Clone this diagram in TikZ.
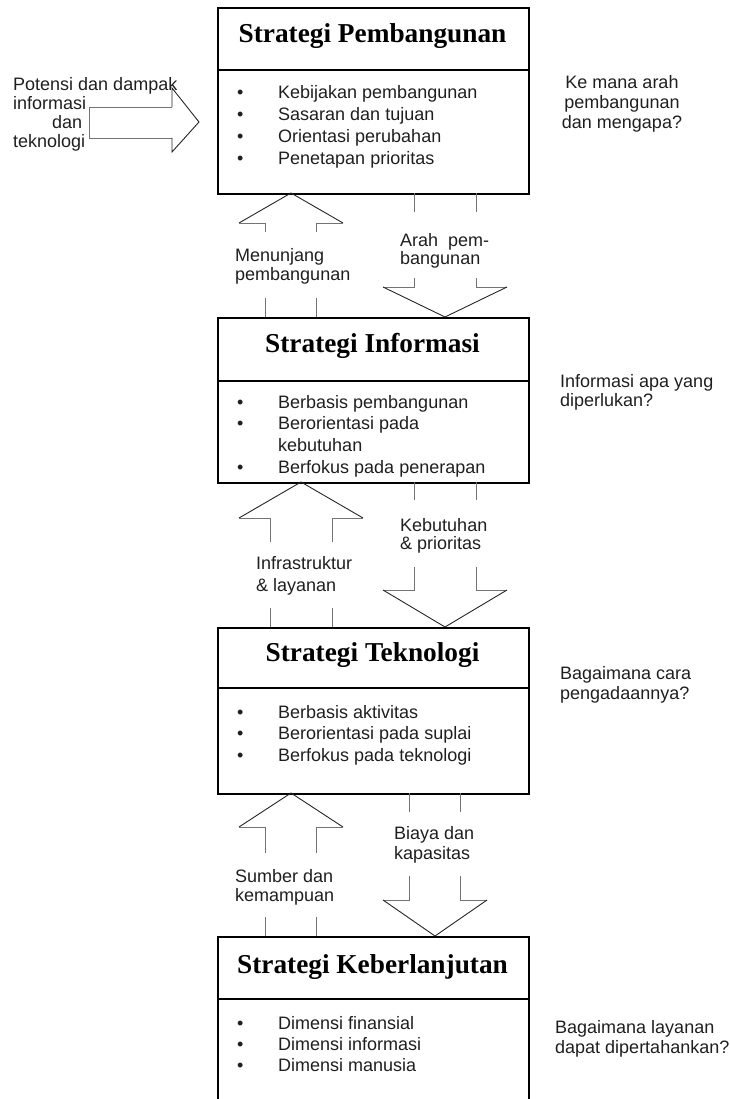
\documentclass[tikz,border=0pt]{standalone}
\usepackage{fontspec}
\setmainfont{Liberation Serif}
\setsansfont{Liberation Sans}
\usetikzlibrary{calc}

% stacked lines whose first baseline is the node's base
\newcommand\TxtLines[2]{\begin{tabular}[t]{@{}#1@{}}#2\end{tabular}}

% hollow block arrow pointing up, with a gap in the shaft for its label
% #1 x centre, #2 tip y, #3 head base y, #4 shaft gap start, #5 shaft gap end,
% #6 shaft foot y, #7 half head width, #8 half shaft width
\newcommand\UpBlock[8]{%
  \draw[head] ({#1-#7},#3) -- (#1,#2) -- ({#1+#7},#3);
  \draw[shaft] ({#1-#7},#3) -- ({#1-#8},#3) -- ({#1-#8},#4);
  \draw[shaft] ({#1+#7},#3) -- ({#1+#8},#3) -- ({#1+#8},#4);
  \draw[shaft] ({#1-#8},#5) -- ({#1-#8},#6);
  \draw[shaft] ({#1+#8},#5) -- ({#1+#8},#6);
}
% hollow block arrow pointing down
% #1 x centre, #2 shaft top y, #3 shaft gap start, #4 shaft gap end,
% #5 head base y, #6 tip y, #7 half head width, #8 half shaft width
\newcommand\DownBlock[8]{%
  \draw[shaft] ({#1-#8},#2) -- ({#1-#8},#3);
  \draw[shaft] ({#1+#8},#2) -- ({#1+#8},#3);
  \draw[shaft] ({#1-#8},#4) -- ({#1-#8},#5) -- ({#1-#7},#5);
  \draw[shaft] ({#1+#8},#4) -- ({#1+#8},#5) -- ({#1+#7},#5);
  \draw[head] ({#1-#7},#5) -- (#1,#6) -- ({#1+#7},#5);
}

\begin{document}
\begin{tikzpicture}[x=1pt,y=-1pt,
  frame/.style={draw=black, line width=1.6pt, rectangle, inner sep=0pt,
                anchor=north west, minimum width=311pt},
  rule/.style={line width=1.6pt},
  title/.style={font=\rmfamily\bfseries\fontsize{27.3}{30}\selectfont,
                anchor=base, inner sep=0pt},
  txt/.style={font=\sffamily\fontsize{18}{#1}\selectfont, text=black!88,
              inner sep=0pt, anchor=base west},
  txt/.default=19,
  head/.style={draw=black!85, line width=0.9pt, line join=miter},
  shaft/.style={draw=black!55, line width=0.9pt},
]
\useasboundingbox (0,0) rectangle (729,1099);
\clip (0,0) rectangle (729,1099);

% ---- strategy boxes ----
\node[frame, minimum height=186pt] (b1) at (217,7) {};
\node[frame, minimum height=165pt] (b2) at (217,317) {};
\node[frame, minimum height=166pt] (b3) at (217,627) {};
\node[frame, minimum height=180pt] (b4) at (217,936) {};

\draw[rule] ($(b1.north west)+(0,63)$) -- ($(b1.north east)+(0,63)$);
\draw[rule] ($(b2.north west)+(0,64)$) -- ($(b2.north east)+(0,64)$);
\draw[rule] ($(b3.north west)+(0,61)$) -- ($(b3.north east)+(0,61)$);
\draw[rule] ($(b4.north west)+(0,63)$) -- ($(b4.north east)+(0,63)$);

\node[title] (t1) at (372.5,43)  {Strategi Pembangunan};
\node[title] (t2) at (372.5,352) {Strategi Informasi};
\node[title] (t3) at (372.5,661) {Strategi Teknologi};
\node[title] (t4) at (372.5,973) {Strategi Keberlanjutan};

\node[txt=22] (l1) at (237,99) {\TxtLines{p{41pt}@{}l}{%
  \textbullet & Kebijakan pembangunan\\
  \textbullet & Sasaran dan tujuan\\
  \textbullet & Orientasi perubahan\\
  \textbullet & Penetapan prioritas}};
\node[txt=21.7] (l2) at (237,408) {\TxtLines{p{41pt}@{}l}{%
  \textbullet & Berbasis pembangunan\\
  \textbullet & Berorientasi pada\\
              & kebutuhan\\
  \textbullet & Berfokus pada penerapan}};
\node[txt=21.5] (l3) at (237,718) {\TxtLines{p{41pt}@{}l}{%
  \textbullet & Berbasis aktivitas\\
  \textbullet & Berorientasi pada suplai\\
  \textbullet & Berfokus pada teknologi}};
\node[txt=21] (l4) at (237,1029) {\TxtLines{p{41pt}@{}l}{%
  \textbullet & Dimensi finansial\\
  \textbullet & Dimensi informasi\\
  \textbullet & Dimensi manusia}};

% ---- input arrow on the left ----
\draw[shaft] (172,107) -- (89,107) -- (89,138) -- (172,138);
\draw[head] (172,107) -- (172,88) -- (199,122) -- (172,152) -- (172,138);
\node[txt=19] (src) at (13,91) {\TxtLines{l}{%
  Potensi dan dampak\\ informasi\\ \hspace*{39pt}dan\\ teknologi}};

% ---- block arrows between the boxes ----
\UpBlock{291}{193}{223}{232}{298}{317}{52}{25.5}
\DownBlock{445}{193}{212}{278}{287}{317}{62}{31}
\UpBlock{301}{482}{518}{542}{608}{627}{62}{31}
\DownBlock{445}{482}{500}{567}{590}{627}{62}{31}
\UpBlock{291}{793}{827}{853}{917}{936}{52}{25.5}
\DownBlock{435}{793}{812}{876}{900}{936}{52}{25.5}

\node[txt=20] (u1) at (235,261) {\TxtLines{l}{Menunjang\\ pembangunan}};
\node[txt=16] (d1) at (400,247) {\TxtLines{l}{Arah\ \ pem-\\ bangunan}};
\node[txt=22] (u2) at (256,569) {\TxtLines{l}{Infrastruktur\\ \& layanan}};
\node[txt=18] (d2) at (400,531) {\TxtLines{l}{Kebutuhan\\ \& prioritas}};
\node[txt=19] (u3) at (235,882) {\TxtLines{l}{Sumber dan\\ kemampuan}};
\node[txt=20] (d3) at (394,839) {\TxtLines{l}{Biaya dan\\ kapasitas}};

% ---- guiding questions on the right ----
\node[txt=20, anchor=base] (q1) at (622,89)
  {\TxtLines{c}{Ke mana arah\\ pembangunan\\ dan mengapa?}};
\node[txt=19] (q2) at (560,387) {\TxtLines{l}{Informasi apa yang\\ diperlukan?}};
\node[txt=20] (q3) at (560,679) {\TxtLines{l}{Bagaimana cara\\ pengadaannya?}};
\node[txt=20] (q4) at (555,1033) {\TxtLines{l}{Bagaimana layanan\\ dapat dipertahankan?}};
\end{tikzpicture}
\end{document}
